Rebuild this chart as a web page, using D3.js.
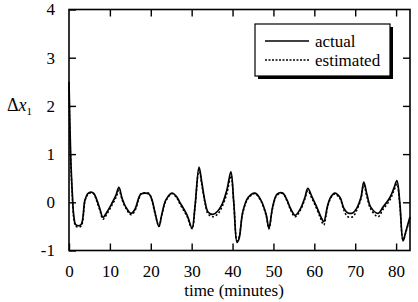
<!DOCTYPE html>
<html>
<head>
<meta charset="utf-8">
<script src="https://cdn.jsdelivr.net/npm/d3@7"></script>
<style>
  body { margin: 0; background: #fff; }
  svg { display: block; }
  text { font-family: "Liberation Serif", "Times New Roman", serif; fill: #000; }
</style>
</head>
<body>
<svg id="chart" width="418" height="302"></svg>
<script>
// time in minutes
var times = [0, 0.4, 0.8, 1.2, 1.7, 2.9, 3.9, 4.6, 5.4, 6.1, 6.8, 7.6, 8.3, 9.3, 10.5, 11.5, 12.2, 13.0,
  13.9, 15.2, 16.1, 17.1, 17.6, 18.6, 19.6, 20.3, 21.0, 22.0, 22.7, 23.7, 25.2, 26.2, 27.1, 28.9,
  30.1, 30.8, 31.8, 32.5, 33.3, 34.0, 35.2, 36.4, 37.4, 38.6, 39.6, 40.3, 41.1, 41.6, 42.5, 43.8,
  45.5, 46.9, 48.2, 48.9, 49.8, 50.9, 52.3, 53.3, 54.3, 55.3, 56.5, 57.7, 58.4, 59.4, 60.6, 61.6,
  62.3, 63.3, 64.1, 65.0, 66.3, 67.2, 68.2, 69.4, 70.4, 71.4, 72.1, 72.9, 73.8, 75.6, 76.8, 78.5,
  79.5, 80.2, 80.9, 81.7, 82.4, 83.4];

var actual = [2.5, 1.0, 0.2, -0.3, -0.47, -0.47, 0.05, 0.18, 0.21, 0.18, 0.05, -0.15, -0.31, -0.2, -0.02, 0.15, 0.31, 0.08,
  -0.1, -0.23, -0.15, 0.1, 0.17, 0.19, 0.17, 0.05, -0.2, -0.5, -0.25, 0.05, 0.19, 0.13, 0.0, -0.27,
  -0.54, -0.1, 0.73, 0.4, 0.0, -0.2, -0.25, -0.18, -0.05, 0.25, 0.63, 0.0, -0.83, -0.75, -0.2, 0.1,
  0.19, 0.05, -0.25, -0.54, -0.1, 0.17, 0.19, 0.05, -0.15, -0.27, -0.15, 0.1, 0.29, 0.12, -0.1, -0.3,
  -0.4, -0.05, 0.12, 0.19, 0.1, -0.12, -0.22, -0.22, -0.12, 0.1, 0.42, 0.15, -0.1, -0.23, -0.1, 0.1,
  0.3, 0.45, 0.0, -0.8, -0.6, -0.3];

var estimated = [2.4, 0.9, 0.15, -0.35, -0.5, -0.5, 0.02, 0.16, 0.2, 0.17, 0.02, -0.18, -0.35, -0.24, -0.06, 0.1, 0.25, 0.05,
  -0.12, -0.26, -0.18, 0.07, 0.18, 0.2, 0.18, 0.03, -0.22, -0.5, -0.27, 0.03, 0.18, 0.11, -0.03, -0.3,
  -0.55, -0.12, 0.68, 0.35, -0.03, -0.24, -0.3, -0.24, -0.1, 0.18, 0.55, -0.02, -0.8, -0.72, -0.22, 0.08,
  0.18, 0.03, -0.27, -0.55, -0.12, 0.15, 0.18, 0.03, -0.18, -0.3, -0.18, 0.07, 0.24, 0.08, -0.14, -0.35,
  -0.47, -0.08, 0.1, 0.17, 0.07, -0.16, -0.3, -0.3, -0.16, 0.07, 0.36, 0.1, -0.14, -0.3, -0.15, 0.05,
  0.25, 0.38, -0.05, -0.78, -0.62, -0.32];

var xTicks = [0, 10, 20, 30, 40, 50, 60, 70, 80];
var yTicks = [-1, 0, 1, 2, 3, 4];

var svg = d3.select('#chart');
var mLeft = 69, mRight = 410, mTop = 9.5, mBottom = 250.5;

var x = d3.scaleLinear().domain([0, 83.4]).range([mLeft, mRight]);
var y = d3.scaleLinear().domain([-1, 4]).range([mBottom, mTop]);

// frame
svg.append('rect')
  .attr('x', mLeft).attr('y', mTop)
  .attr('width', mRight - mLeft).attr('height', mBottom - mTop)
  .attr('fill', 'none').attr('stroke', '#000').attr('stroke-width', 1.6);

function styleAxis(g) {
  g.select('.domain').remove();
  g.selectAll('.tick line').attr('stroke', '#000').attr('stroke-width', 1.4);
  g.selectAll('.tick text').style('font-size', '17px').attr('fill', '#000');
}

svg.append('g').attr('transform', `translate(0,${mBottom})`)
  .call(d3.axisBottom(x).tickValues(xTicks).tickSize(-7).tickPadding(14).tickFormat(d => String(d)))
  .call(styleAxis);
svg.append('g').attr('transform', `translate(0,${mTop})`)
  .call(d3.axisTop(x).tickValues(xTicks.slice(1)).tickSize(-7).tickFormat(''))
  .call(styleAxis);
svg.append('g').attr('transform', `translate(${mLeft},0)`)
  .call(d3.axisLeft(y).tickValues(yTicks).tickSize(-7).tickPadding(14).tickFormat(d => String(d)))
  .call(styleAxis);
svg.append('g').attr('transform', `translate(${mRight},0)`)
  .call(d3.axisRight(y).tickValues(yTicks.slice(1, 5)).tickSize(-7).tickFormat(''))
  .call(styleAxis);

var line = d3.line()
  .x((d, i) => x(times[i]))
  .y(d => y(d))
  .curve(d3.curveCatmullRom.alpha(0.5));

svg.append('path').datum(estimated)
  .attr('d', line).attr('fill', 'none')
  .attr('stroke', '#000').attr('stroke-width', 1.5).attr('stroke-dasharray', '2,2');
svg.append('path').datum(actual)
  .attr('d', line).attr('fill', 'none')
  .attr('stroke', '#000').attr('stroke-width', 1.7);

// legend with drop shadow
var lg = svg.append('g');
lg.append('rect').attr('x', 258).attr('y', 27).attr('width', 135).attr('height', 52).attr('fill', '#000');
lg.append('rect').attr('x', 255).attr('y', 24).attr('width', 135).attr('height', 52)
  .attr('fill', '#fff').attr('stroke', '#000').attr('stroke-width', 1.2);
lg.append('line').attr('x1', 265).attr('x2', 309).attr('y1', 41).attr('y2', 41)
  .attr('stroke', '#000').attr('stroke-width', 1.3);
lg.append('line').attr('x1', 265).attr('x2', 309).attr('y1', 60).attr('y2', 60)
  .attr('stroke', '#000').attr('stroke-width', 1.3).attr('stroke-dasharray', '2,1.5');
lg.append('text').attr('x', 315).attr('y', 47).style('font-size', '17px').text('actual');
lg.append('text').attr('x', 315).attr('y', 66).style('font-size', '17px').text('estimated');

// axis labels
svg.append('text').attr('x', 234).attr('y', 296).attr('text-anchor', 'middle')
  .style('font-size', '17px').text('time (minutes)');

var yl = svg.append('text').attr('x', 7).attr('y', 111).style('font-size', '18px');
yl.append('tspan').text('Δ');
yl.append('tspan').style('font-style', 'italic').text('x');
yl.append('tspan').attr('dy', 4).style('font-size', '11px').text('1');
</script>
</body>
</html>
